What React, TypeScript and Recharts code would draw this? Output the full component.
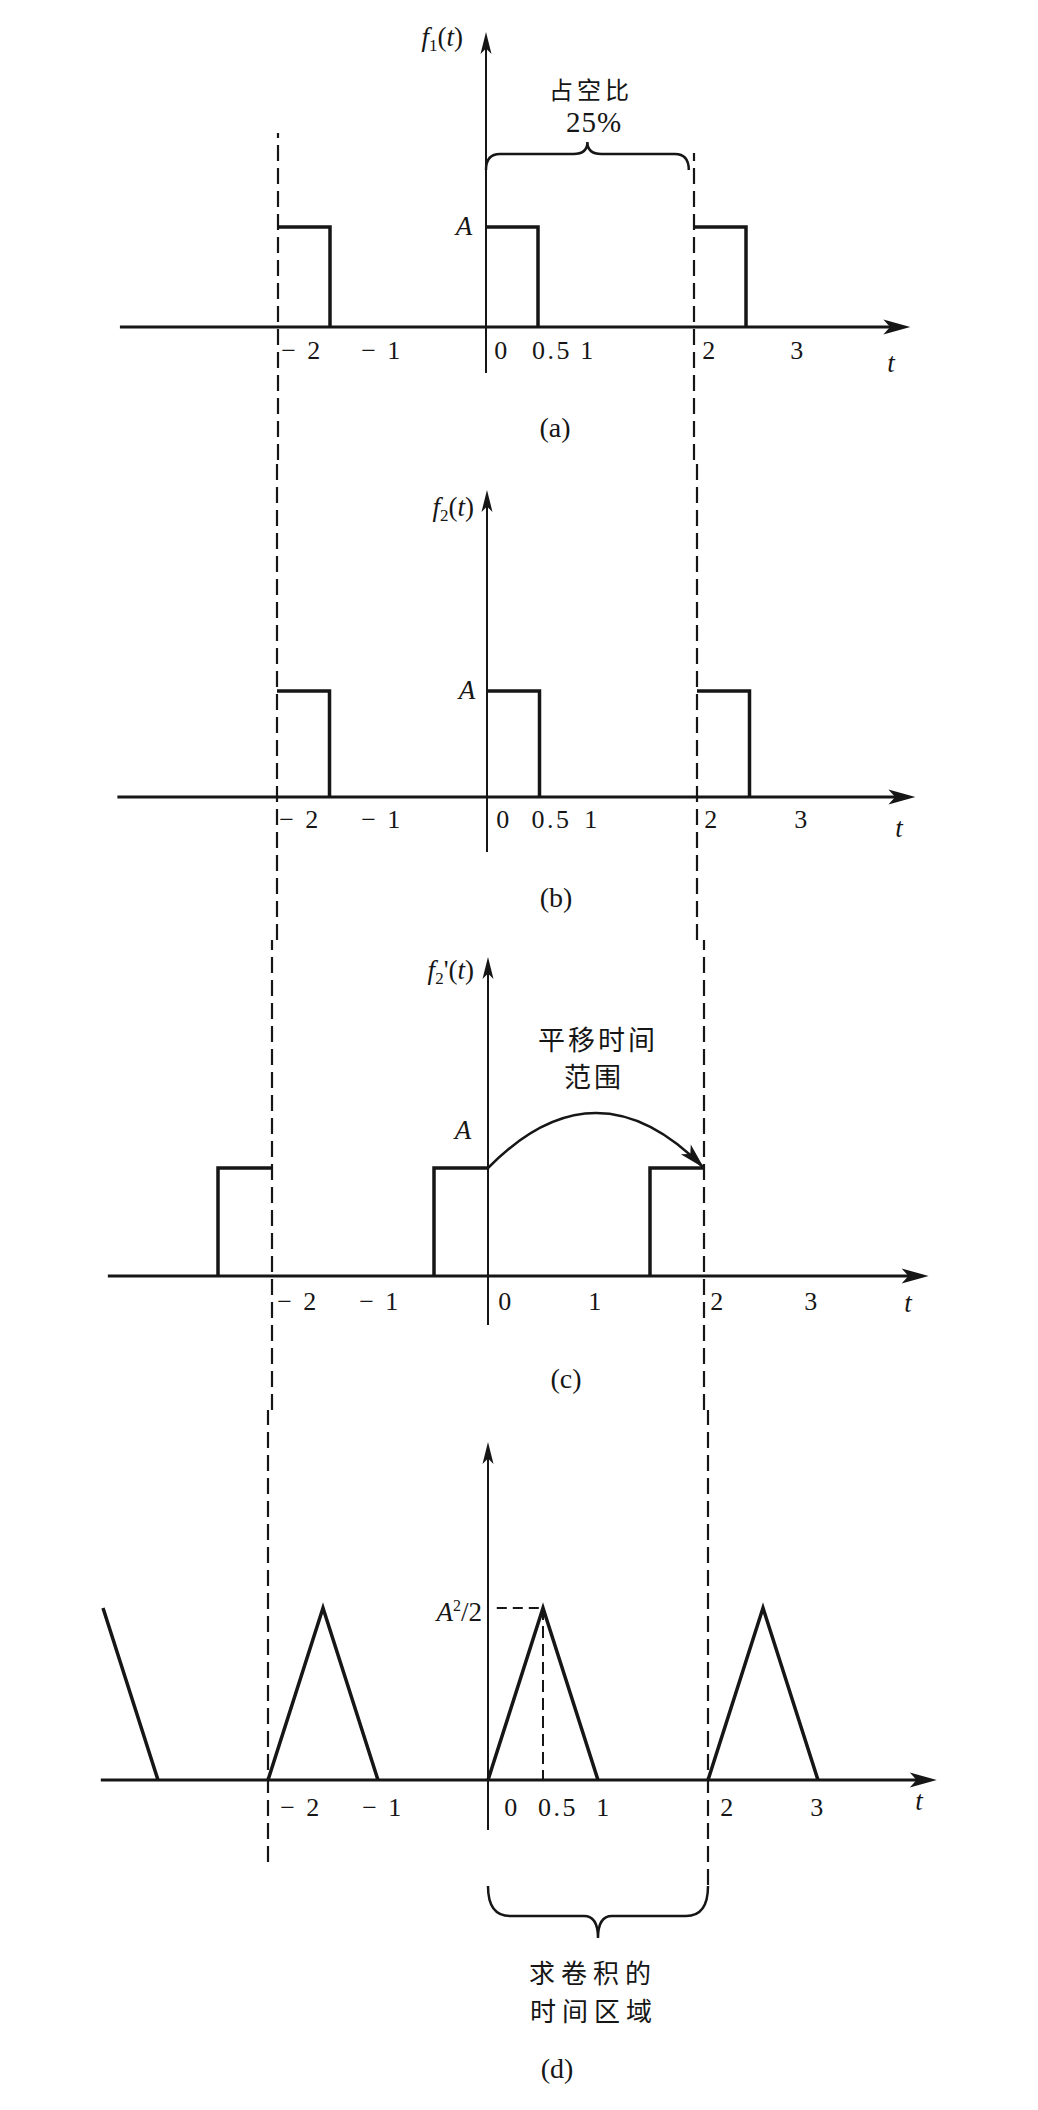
import React from 'react';
import { ComposedChart, Line, XAxis, YAxis, ReferenceLine, ReferenceDot } from 'recharts';

const W = 1038;
const H = 2110;
const INK = '#161616';
const SERIF = '"Liberation Serif", "Times New Roman", serif';
const CJK = '"Noto Sans CJK SC", "Noto Sans", sans-serif';

// (a) f1(t): pulses of height A, width 0.5, period 2 (top + falling edge)
const f1Time = [-2, -1.5, -1.5, -1.5, 0, 0.5, 0.5, 0.5, 2, 2.5, 2.5];
const f1Value = [1, 1, 0, null, 1, 1, 0, null, 1, 1, 0];

// (b) f2(t)
const f2Time = [-2, -1.5, -1.5, -1.5, 0, 0.5, 0.5, 0.5, 2, 2.5, 2.5];
const f2Value = [1, 1, 0, null, 1, 1, 0, null, 1, 1, 0];

// (c) f2'(t), reversed pulses (rising edge + top)
const f2rTime = [-2.5, -2.5, -2, -2, -0.5, -0.5, 0, 0, 1.5, 1.5, 2];
const f2rValue = [0, 1, 1, null, 0, 1, 1, null, 0, 1, 1];

// (d) convolution result, in units of A^2/2
const convTime = [-3.5, -3, -3, -2, -1.5, -1, -1, 0, 0.5, 1, 1, 2, 2.5, 3];
const convValue = [1, 0, null, 0, 1, 0, null, 0, 1, 0, null, 0, 1, 0];

const ticksA = [-2, -1, 0, 0.5, 1, 2, 3];
const ticksB = [-2, -1, 0, 0.5, 1, 2, 3];
const ticksC = [-2, -1, 0, 1, 2, 3];
const ticksD = [-2, -1, 0, 0.5, 1, 2, 3];

const guideTimes = [-2, 2];
const axisSpan = [-3.52, 4.08];
const dutySpan = [0, 1.95];
const shiftSpan = [0, 2];
const convSpan = [0, 2];
const peakTime = 0.5;

type Panel = {
    id: string;
    zero: number;
    unit: number;
    base: number;
    amp: number;
    axisTop: number;
    axisBottom: number;
    guideTop: number[];
    guideBottom: number[];
    tickDy: number;
    tickDx: Record<string, number>;
};

// pixel layout of the four stacked panels
const panels: Panel[] = [
    {
        id: 'a', zero: 486, unit: 104, base: 327, amp: 100, axisTop: 32, axisBottom: 373,
        guideTop: [133, 153], guideBottom: [460, 460], tickDy: 32,
        tickDx: { '-2': 24, '0': 16, '0.5': 14, '1': -2, '2': 16 },
    },
    {
        id: 'b', zero: 487, unit: 105, base: 797, amp: 106, axisTop: 490, axisBottom: 852,
        guideTop: [460, 460], guideBottom: [940, 940], tickDy: 31,
        tickDx: { '-2': 23, '0': 17, '0.5': 12, '2': 15 },
    },
    {
        id: 'c', zero: 488, unit: 108, base: 1276, amp: 108, axisTop: 957, axisBottom: 1325,
        guideTop: [940, 940], guideBottom: [1410, 1410], tickDy: 34,
        tickDx: { '-2': 26, '0': 18, '2': 14 },
    },
    {
        id: 'd', zero: 488, unit: 110, base: 1780, amp: 172, axisTop: 1442, axisBottom: 1830,
        guideTop: [1410, 1410], guideBottom: [1862, 1885], tickDy: 36,
        tickDx: { '-2': 33, '-1': 5, '0': 24, '0.5': 15, '1': 6, '2': 20 },
    },
];

const seriesOf: Record<string, [number[], (number | null)[]]> = {
    a: [f1Time, f1Value],
    b: [f2Time, f2Value],
    c: [f2rTime, f2rValue],
    d: [convTime, convValue],
};
const ticksOf: Record<string, number[]> = { a: ticksA, b: ticksB, c: ticksC, d: ticksD };

const xDom = (p: Panel) => [-p.zero / p.unit, (W - p.zero) / p.unit];
const yDom = (p: Panel) => [(p.base - H) / p.amp, p.base / p.amp];
const rowToV = (p: Panel, px: number) => (p.base - px) / p.amp;
const rows = (time: number[], value: (number | null)[]) => time.map((t, i) => ({ t, v: value[i] }));
const fmt = (t: number) => (t < 0 ? `\u2212 ${Math.abs(t)}` : String(t));

const head = (x: number, y: number, ang: number, len: number, half: number) => {
    const c = Math.cos(ang);
    const s = Math.sin(ang);
    const bx = x - len * c;
    const by = y - len * s;
    const nx = x - len * 0.75 * c;
    const ny = y - len * 0.75 * s;
    return `${x},${y} ${bx - half * s},${by + half * c} ${nx},${ny} ${bx + half * s},${by - half * c}`;
};

const arrowShape = (width: number, len: number, half: number) => (props: any) => {
    const { x1, y1, x2, y2 } = props;
    const ang = Math.atan2(y2 - y1, x2 - x1);
    return (
        <g>
            <line x1={x1} y1={y1} x2={x2 - len * 0.6 * Math.cos(ang)} y2={y2 - len * 0.6 * Math.sin(ang)}
                stroke={INK} strokeWidth={width} />
            <polygon points={head(x2, y2, ang, len, half)} fill={INK} />
        </g>
    );
};

const arcShape = (rise: number) => (props: any) => {
    const { x1, y1, x2, y2 } = props;
    const cx = (x1 + x2) / 2;
    const cy = Math.min(y1, y2) - 2 * rise;
    const ang = Math.atan2(y2 - cy, x2 - cx);
    return (
        <g>
            <path d={`M${x1},${y1} Q${cx},${cy} ${x2},${y2}`} fill="none" stroke={INK} strokeWidth={2.5} />
            <polygon points={head(x2, y2, ang, 26, 7)} fill={INK} />
        </g>
    );
};

const braceShape = (dir: number, hEnd: number, hTip: number, r: number) => (props: any) => {
    const { x1, y1, x2, y2 } = props;
    const yh = y1 + dir * hEnd;
    const yt = yh + dir * hTip;
    const xm = (x1 + x2) / 2;
    const d = `M${x1},${y1} Q${x1},${yh} ${x1 + r},${yh} L${xm - 14},${yh} Q${xm},${yh} ${xm},${yt} ` +
        `Q${xm},${yh} ${xm + 14},${yh} L${x2 - r},${yh} Q${x2},${yh} ${x2},${y2}`;
    return <path d={d} fill="none" stroke={INK} strokeWidth={2.5} />;
};

const tickShape = (label: string, dx: number, dy: number) => (props: any) => (
    <text x={props.cx + dx} y={props.cy + dy} textAnchor="middle" fontFamily={SERIF} fontSize={26}
        letterSpacing={2.5} fill={INK}>
        {label}
    </text>
);

export default function App() {
    const [pa, , , pd] = panels;
    return (
        <div style={{ position: 'relative', width: W, height: H, background: '#fff' }}>
            <style>{'body{margin:0;background:#fff}'}</style>
            <ComposedChart width={W} height={H} margin={{ top: 0, right: 0, bottom: 0, left: 0 }}>
                {panels.map((p) => [
                    <XAxis key={`x${p.id}`} xAxisId={p.id} dataKey="t" type="number" domain={xDom(p)}
                        hide allowDataOverflow />,
                    <YAxis key={`y${p.id}`} yAxisId={p.id} type="number" domain={yDom(p)}
                        hide allowDataOverflow />,
                ])}
                {panels.map((p) => guideTimes.map((g, i) => (
                    <ReferenceLine key={`g${p.id}${i}`} xAxisId={p.id} yAxisId={p.id} ifOverflow="visible"
                        segment={[{ x: g, y: rowToV(p, p.guideBottom[i]) }, { x: g, y: rowToV(p, p.guideTop[i]) }]}
                        stroke={INK} strokeWidth={2.2} strokeDasharray="16 7" />
                )))}
                {panels.map((p) => [
                    <ReferenceLine key={`ax${p.id}`} xAxisId={p.id} yAxisId={p.id} ifOverflow="visible"
                        segment={[{ x: axisSpan[0], y: 0 }, { x: axisSpan[1], y: 0 }]}
                        shape={arrowShape(2.8, 27, 7.5)} />,
                    <ReferenceLine key={`ay${p.id}`} xAxisId={p.id} yAxisId={p.id} ifOverflow="visible"
                        segment={[{ x: 0, y: rowToV(p, p.axisBottom) }, { x: 0, y: rowToV(p, p.axisTop) }]}
                        shape={arrowShape(2, 22, 5.5)} />,
                ])}
                <ReferenceLine xAxisId="a" yAxisId="a" ifOverflow="visible"
                    segment={[{ x: dutySpan[0], y: rowToV(pa, 170) }, { x: dutySpan[1], y: rowToV(pa, 170) }]}
                    shape={braceShape(-1, 16, 12, 14)} />
                <ReferenceLine xAxisId="c" yAxisId="c" ifOverflow="visible"
                    segment={[{ x: shiftSpan[0], y: 1 }, { x: shiftSpan[1], y: 1 }]}
                    shape={arcShape(55)} />
                <ReferenceLine xAxisId="d" yAxisId="d" ifOverflow="visible"
                    segment={[{ x: convSpan[0], y: rowToV(pd, 1886) }, { x: convSpan[1], y: rowToV(pd, 1886) }]}
                    shape={braceShape(1, 30, 22, 22)} />
                <ReferenceLine xAxisId="d" yAxisId="d" ifOverflow="visible"
                    segment={[{ x: 0.08, y: 1 }, { x: peakTime, y: 1 }]}
                    stroke={INK} strokeWidth={2} strokeDasharray="10 6" />
                <ReferenceLine xAxisId="d" yAxisId="d" ifOverflow="visible"
                    segment={[{ x: peakTime, y: 1 }, { x: peakTime, y: 0 }]}
                    stroke={INK} strokeWidth={2} strokeDasharray="12 6" />
                {panels.map((p) => (
                    <Line key={`s${p.id}`} xAxisId={p.id} yAxisId={p.id} data={rows(...seriesOf[p.id])}
                        dataKey="v" type="linear" stroke={INK} strokeWidth={3.5} strokeLinejoin="miter"
                        dot={false} activeDot={false} connectNulls={false} isAnimationActive={false} />
                ))}
                {panels.map((p) => ticksOf[p.id].map((t) => (
                    <ReferenceDot key={`t${p.id}${t}`} xAxisId={p.id} yAxisId={p.id} x={t} y={0} r={1}
                        ifOverflow="visible" shape={tickShape(fmt(t), p.tickDx[String(t)] ?? 0, p.tickDy)} />
                )))}
            </ComposedChart>
            <svg width={W} height={H} style={{ position: 'absolute', left: 0, top: 0, pointerEvents: 'none' }}>
                <g fontFamily={SERIF} fill={INK} fontSize={27}>
                    <text x={463} y={46} textAnchor="end">
                        <tspan fontStyle="italic">f</tspan>
                        <tspan fontSize={17} dy={5}>1</tspan>
                        <tspan dy={-5}>(</tspan>
                        <tspan fontStyle="italic">t</tspan>)
                    </text>
                    <text x={474} y={516} textAnchor="end">
                        <tspan fontStyle="italic">f</tspan>
                        <tspan fontSize={17} dy={5}>2</tspan>
                        <tspan dy={-5}>(</tspan>
                        <tspan fontStyle="italic">t</tspan>)
                    </text>
                    <text x={474} y={979} textAnchor="end">
                        <tspan fontStyle="italic">f</tspan>
                        <tspan fontSize={17} dy={5}>2</tspan>
                        <tspan dy={-5}>'(</tspan>
                        <tspan fontStyle="italic">t</tspan>)
                    </text>
                    <text x={464} y={235} textAnchor="middle" fontStyle="italic">A</text>
                    <text x={467} y={699} textAnchor="middle" fontStyle="italic">A</text>
                    <text x={463} y={1139} textAnchor="middle" fontStyle="italic">A</text>
                    <text x={482} y={1621} textAnchor="end">
                        <tspan fontStyle="italic">A</tspan>
                        <tspan fontSize={16} dy={-10}>2</tspan>
                        <tspan dy={10}>/2</tspan>
                    </text>
                    <text x={891} y={372} textAnchor="middle" fontStyle="italic">t</text>
                    <text x={899} y={837} textAnchor="middle" fontStyle="italic">t</text>
                    <text x={908} y={1312} textAnchor="middle" fontStyle="italic">t</text>
                    <text x={919} y={1810} textAnchor="middle" fontStyle="italic">t</text>
                    <text x={594} y={132} textAnchor="middle" fontSize={29} letterSpacing={1}>25%</text>
                    <text x={555} y={437} textAnchor="middle" fontSize={28}>(a)</text>
                    <text x={556} y={907} textAnchor="middle" fontSize={28}>(b)</text>
                    <text x={566} y={1388} textAnchor="middle" fontSize={28}>(c)</text>
                    <text x={557} y={2078} textAnchor="middle" fontSize={28}>(d)</text>
                </g>
                <g fontFamily={CJK} fill={INK} textAnchor="middle">
                    <text x={591} y={99} fontSize={24} letterSpacing={4}>占空比</text>
                    <text x={598} y={1050} fontSize={27} letterSpacing={3}>平移时间</text>
                    <text x={594} y={1087} fontSize={27} letterSpacing={3}>范围</text>
                    <text x={593} y={1983} fontSize={26} letterSpacing={6}>求卷积的</text>
                    <text x={594} y={2021} fontSize={26} letterSpacing={6}>时间区域</text>
                </g>
            </svg>
        </div>
    );
}
